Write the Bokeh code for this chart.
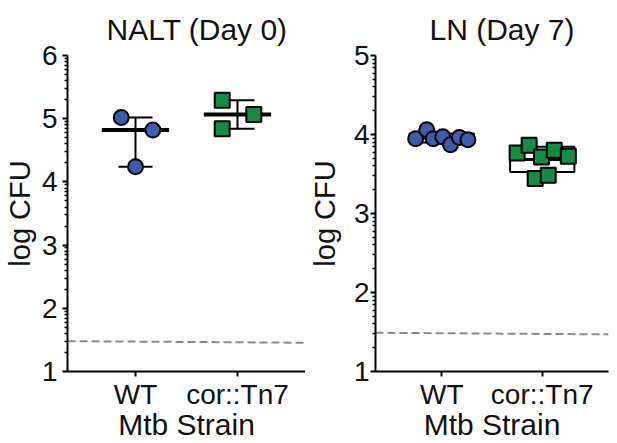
import numpy as np
from bokeh.plotting import figure
from bokeh.models import Range1d, FixedTicker
from bokeh.layouts import row
from bokeh.embed import file_html
from bokeh.resources import INLINE

# ---------------- data ----------------
strains = ["WT", "cor::Tn7"]
strain_pos = [1, 2]

nalt_title = "NALT (Day 0)"
nalt_wt = [5.02, 4.82, 4.24]
nalt_wt_jitter = [-0.14, 0.17, 0.0]
nalt_cor = [5.29, 5.065, 4.84]
nalt_cor_jitter = [-0.15, 0.16, -0.15]
nalt_limit = [1.48, 1.455]
nalt_ticks = [1, 2, 3, 4, 5, 6]

ln_title = "LN (Day 7)"
ln_wt = [3.947, 4.06, 3.947, 3.97, 3.87, 3.963, 3.934]
ln_wt_jitter = [-0.26, -0.15, -0.085, 0.01, 0.087, 0.175, 0.26]
ln_cor = [3.766, 3.863, 3.715, 3.80, 3.724, 3.443, 3.484]
ln_cor_jitter = [-0.25, -0.13, -0.007, 0.12, 0.26, -0.07, 0.06]
ln_limit = [1.49, 1.47]
ln_ticks = [1, 2, 3, 4, 5]

x_label = "Mtb Strain"
y_label = "log CFU"

BLUE = "#3f5bab"
GREEN = "#178b45"
FONT = "Liberation Sans"
TXT = "#111111"

HEIGHT = 443
TOP = 55
BOTTOM = 71


def log_minor(ticks):
    return [n + np.log10(k) for n in ticks[:-1] for k in range(2, 10)]


def base_fig(title, ticks, xr, width, border_left, border_right, title_off,
             ytick_standoff, ylab_standoff):
    p = figure(width=width, height=HEIGHT, x_range=Range1d(*xr),
               y_range=Range1d(ticks[0], ticks[-1]),
               output_backend="svg", toolbar_location=None,
               min_border_left=border_left, min_border_right=border_right,
               min_border_top=TOP, min_border_bottom=BOTTOM)
    p.outline_line_color = None
    p.grid.visible = False
    p.background_fill_color = "white"
    p.border_fill_color = "white"

    p.title.text = title
    p.title.text_font = FONT
    p.title.text_font_size = "30px"
    p.title.text_font_style = "normal"
    p.title.text_color = TXT
    p.title.align = "left"
    p.title.offset = title_off
    p.title.standoff = 19

    xa = p.xaxis[0]
    xa.ticker = FixedTicker(ticks=strain_pos, minor_ticks=[])
    xa.major_label_overrides = {pos: s for pos, s in zip(strain_pos, strains)}
    xa.axis_label = x_label
    ya = p.yaxis[0]
    ya.ticker = FixedTicker(ticks=ticks, minor_ticks=log_minor(ticks))
    ya.axis_label = y_label

    for ax in (xa, ya):
        ax.axis_line_width = 2
        ax.axis_line_color = "black"
        ax.major_tick_line_width = 2
        ax.major_tick_line_color = "black"
        ax.minor_tick_line_width = 1.5
        ax.minor_tick_line_color = "black"
        ax.major_tick_in = 0
        ax.major_tick_out = 5
        ax.minor_tick_in = 0
        ax.minor_tick_out = 3
        ax.major_label_text_font = FONT
        ax.major_label_text_font_size = "28px"
        ax.major_label_text_color = TXT
        ax.axis_label_text_font = FONT
        ax.axis_label_text_font_style = "normal"
        ax.axis_label_text_color = TXT
    xa.axis_label_text_font_size = "30px"
    ya.axis_label_text_font_size = "29px"
    xa.major_label_standoff = 2
    xa.axis_label_standoff = -5
    ya.major_label_standoff = ytick_standoff
    ya.axis_label_standoff = ylab_standoff
    return p


def limit_line(p, xr, limit):
    p.line(x=[xr[0], xr[1]], y=limit, line_color="#8a8a8a",
           line_width=2, line_dash="8 4")


def median_range(p, x, vals):
    v = np.array(vals)
    med, lo, hi = np.median(v), v.min(), v.max()
    p.segment(x0=[x], y0=[lo], x1=[x], y1=[hi], line_color="black", line_width=2)
    p.segment(x0=[x - 0.167, x - 0.167], y0=[lo, hi], x1=[x + 0.167, x + 0.167],
              y1=[lo, hi], line_color="black", line_width=2)
    p.segment(x0=[x - 0.33], y0=[med], x1=[x + 0.33], y1=[med],
              line_color="black", line_width=4)


def mean_sd_box(p, x, vals):
    v = np.array(vals)
    m, sd = v.mean(), v.std(ddof=1)
    p.quad(left=[x - 0.32], right=[x + 0.32], bottom=[m - sd], top=[m + sd],
           fill_color=None, line_color="black", line_width=2)
    p.segment(x0=[x - 0.32], y0=[m], x1=[x + 0.32], y1=[m],
              line_color="black", line_width=3)


# ---------------- left panel ----------------
xr1 = (0.333, 2.667)
p1 = base_fig(nalt_title, nalt_ticks, xr1, 305, 67, 0, 39, 5, 3)
limit_line(p1, xr1, nalt_limit)
median_range(p1, strain_pos[0], nalt_wt)
median_range(p1, strain_pos[1], nalt_cor)
p1.scatter(x=[strain_pos[0] + j for j in nalt_wt_jitter], y=nalt_wt, marker="circle",
           size=15, fill_color=BLUE, line_color="black", line_width=2)
p1.scatter(x=[strain_pos[1] + j for j in nalt_cor_jitter], y=nalt_cor, marker="square",
           size=15, fill_color=GREEN, line_color="black", line_width=2)

# ---------------- right panel ----------------
xr2 = (0.34, 2.66)
p2 = base_fig(ln_title, ln_ticks, xr2, 312, 64, 9, 54, 1, 10)
limit_line(p2, xr2, ln_limit)
mean_sd_box(p2, strain_pos[0], ln_wt)
mean_sd_box(p2, strain_pos[1], ln_cor)
p2.scatter(x=[strain_pos[0] + j for j in ln_wt_jitter], y=ln_wt, marker="circle",
           size=15, fill_color=BLUE, line_color="black", line_width=2)
p2.scatter(x=[strain_pos[1] + j for j in ln_cor_jitter], y=ln_cor, marker="square",
           size=15, fill_color=GREEN, line_color="black", line_width=2)

layout = row(p1, p2, spacing=0)
open("out.html", "w").write(file_html(layout, INLINE))
